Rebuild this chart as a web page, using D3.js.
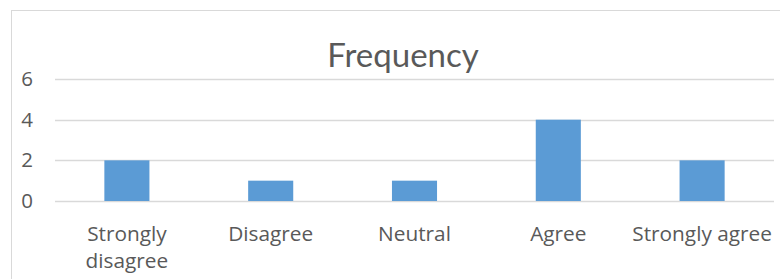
<!DOCTYPE html>
<html><head><meta charset="utf-8">
<script src="https://cdn.jsdelivr.net/npm/d3@7"></script>
<style>body{margin:0;background:#fff;} svg{display:block;}</style>
</head><body>
<svg id="chart" width="780" height="279"></svg>
<script>
const categories = ["Strongly disagree", "Disagree", "Neutral", "Agree", "Strongly agree"];
const values = [2, 1, 1, 4, 2];
const yTicks = [0, 2, 4, 6];
const title = "Frequency";

const svg = d3.select("#chart");
const font = "'Open Sans', sans-serif";
const titleFont = "Lato, 'Open Sans', sans-serif";
const textColor = "#595959";

svg.append("rect").attr("x", 11.5).attr("y", 10.5).attr("width", 800).attr("height", 300)
  .attr("fill", "#fff").attr("stroke", "#d9d9d9").attr("stroke-width", 1);

const x = d3.scaleBand().domain(categories).range([55, 774]).padding(0);
const y = d3.scaleLinear().domain([0, 6]).range([201, 79]);
const barW = x.bandwidth() / 3.19;

// gridlines
svg.append("g").selectAll("line").data(yTicks).join("line")
  .attr("x1", 55).attr("x2", 774)
  .attr("y1", d => Math.round(y(d)) + 0.5).attr("y2", d => Math.round(y(d)) + 0.5)
  .attr("stroke", "#d9d9d9").attr("stroke-width", 1.5);

// y labels
const yAxis = d3.axisLeft(y).tickValues(yTicks).tickFormat(d3.format("d")).tickSize(0).tickPadding(0);
const ga = svg.append("g").attr("transform", "translate(33,0)").call(yAxis);
ga.select(".domain").remove();
ga.selectAll("text").attr("font-family", font).attr("font-size", 20.5).attr("fill", textColor);

// bars
svg.append("g").selectAll("rect").data(values).join("rect")
  .attr("x", (d, i) => x(categories[i]) + x.bandwidth() / 2 - barW / 2)
  .attr("width", barW)
  .attr("y", d => y(d))
  .attr("height", d => y(0) - y(d))
  .attr("fill", "#5B9BD5");

// x labels
const xl = svg.append("g").selectAll("text").data(categories).join("text")
  .attr("x", d => x(d) + x.bandwidth() / 2)
  .attr("y", 241)
  .attr("text-anchor", "middle")
  .attr("font-family", font).attr("font-size", 20.8).attr("fill", textColor);
xl.each(function(d) {
  const t = d3.select(this);
  const words = d === "Strongly disagree" ? ["Strongly", "disagree"] : [d];
  words.forEach((w, k) => t.append("tspan").attr("x", x(d) + x.bandwidth() / 2).attr("dy", k ? 27 : 0).text(w));
});

// title
svg.append("text").attr("x", 403).attr("y", 67).attr("text-anchor", "middle")
  .attr("font-family", titleFont).attr("font-size", 33).attr("fill", textColor).text(title);
</script>
</body></html>
